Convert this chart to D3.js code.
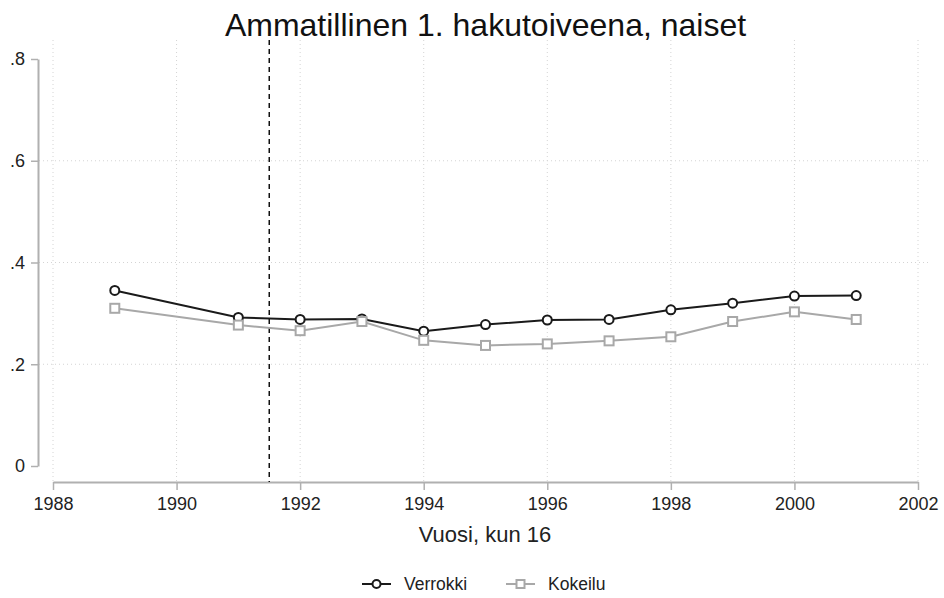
<!DOCTYPE html>
<html><head><meta charset="utf-8">
<script src="https://cdn.jsdelivr.net/npm/d3@7"></script>
<style>
body{margin:0;background:#fff;}
svg{display:block;font-family:"Liberation Sans",Arial,sans-serif;}
</style></head>
<body><svg id="c" width="944" height="598"></svg>
<script>
const years = [1989,1991,1992,1993,1994,1995,1996,1997,1998,1999,2000,2001];
const verrokki = [0.345,0.292,0.288,0.289,0.265,0.278,0.287,0.288,0.307,0.320,0.334,0.335];
const kokeilu  = [0.310,0.277,0.266,0.284,0.247,0.237,0.240,0.246,0.254,0.284,0.303,0.288];
const xTicks = [1988,1990,1992,1994,1996,1998,2000,2002];
const yTicks = [0,0.2,0.4,0.6,0.8];
const yTickLabels = ["0",".2",".4",".6",".8"];
const gridY = [0.2,0.4,0.6];
const cutoff = 1991.5;
const seriesNames = ["Verrokki","Kokeilu"];

const svg = d3.select("#c");
const x = d3.scaleLinear().domain([1988,2002]).range([53,918]);
const y = d3.scaleLinear().domain([0,0.8]).range([466,59]);
const plotTop = 40, xAxisY = 482, yAxisX = 38;

// gridlines
svg.append("g").selectAll("line").data(xTicks).join("line")
  .attr("x1",d=>x(d)).attr("x2",d=>x(d)).attr("y1",plotTop).attr("y2",xAxisY)
  .attr("stroke","#d4d4d4").attr("stroke-width",1).attr("stroke-dasharray","1,3");
svg.append("g").selectAll("line").data(gridY).join("line")
  .attr("x1",yAxisX+1).attr("x2",930).attr("y1",d=>y(d)).attr("y2",d=>y(d))
  .attr("stroke","#d4d4d4").attr("stroke-width",1).attr("stroke-dasharray","1,3");

// axes
const xAxis = svg.append("g").attr("transform",`translate(0,${xAxisY})`)
  .call(d3.axisBottom(x).tickValues(xTicks).tickFormat(d3.format("d")).tickSize(8).tickSizeOuter(0).tickPadding(7));
const yAxis = svg.append("g").attr("transform",`translate(${yAxisX},0)`)
  .call(d3.axisLeft(y).tickValues(yTicks).tickFormat((d,i)=>yTickLabels[i]).tickSize(7).tickSizeOuter(0).tickPadding(6));
[xAxis,yAxis].forEach(g=>{
  g.attr("font-size",null);
  g.select(".domain").attr("stroke","#b0b0b0").attr("stroke-width",2);
  g.selectAll(".tick line").attr("stroke","#b0b0b0").attr("stroke-width",1.5);
  g.selectAll(".tick text").attr("fill","#222").style("font-family","Liberation Sans, Arial, sans-serif").style("font-size","18px");
});

// cutoff line
svg.append("line").attr("x1",x(cutoff)).attr("x2",x(cutoff)).attr("y1",plotTop).attr("y2",xAxisY)
  .attr("stroke","#111").attr("stroke-width",1.5).attr("stroke-dasharray","5,4");

const line = d3.line().x((d,i)=>x(years[i])).y(d=>y(d));
const colors = ["#1a1a1a","#a8a8a8"];
[verrokki,kokeilu].forEach((vals,k)=>{
  svg.append("path").datum(vals).attr("d",line).attr("fill","none")
    .attr("stroke",colors[k]).attr("stroke-width",2);
});
// markers
svg.append("g").selectAll("circle").data(verrokki).join("circle")
  .attr("cx",(d,i)=>x(years[i])).attr("cy",d=>y(d)).attr("r",4.5)
  .attr("fill","#fff").attr("stroke",colors[0]).attr("stroke-width",2);
svg.append("g").selectAll("rect").data(kokeilu).join("rect")
  .attr("x",(d,i)=>x(years[i])-4.5).attr("y",d=>y(d)-4.5).attr("width",9).attr("height",9)
  .attr("fill","#fff").attr("stroke",colors[1]).attr("stroke-width",2);

// title
svg.append("text").attr("x",485.5).attr("y",36).attr("text-anchor","middle")
  .style("font-size","32px").attr("fill","#111").text("Ammatillinen 1. hakutoiveena, naiset");
svg.append("text").attr("x",485).attr("y",542).attr("text-anchor","middle")
  .style("font-size","22px").attr("fill","#222").text("Vuosi, kun 16");

// legend
const leg = [{lx:362,tx:404},{lx:506,tx:548}];
leg.forEach((p,k)=>{
  const g = svg.append("g");
  g.append("line").attr("x1",p.lx).attr("x2",p.lx+29).attr("y1",584).attr("y2",584)
    .attr("stroke",colors[k]).attr("stroke-width",2);
  if(k===0) g.append("circle").attr("cx",p.lx+14.5).attr("cy",584).attr("r",4).attr("fill","#fff").attr("stroke",colors[k]).attr("stroke-width",2);
  else g.append("rect").attr("x",p.lx+10.5).attr("y",580).attr("width",8).attr("height",8).attr("fill","#fff").attr("stroke",colors[k]).attr("stroke-width",2);
  g.append("text").attr("x",p.tx).attr("y",590).style("font-size","17.5px").attr("fill","#222").text(seriesNames[k]);
});
</script></body></html>
